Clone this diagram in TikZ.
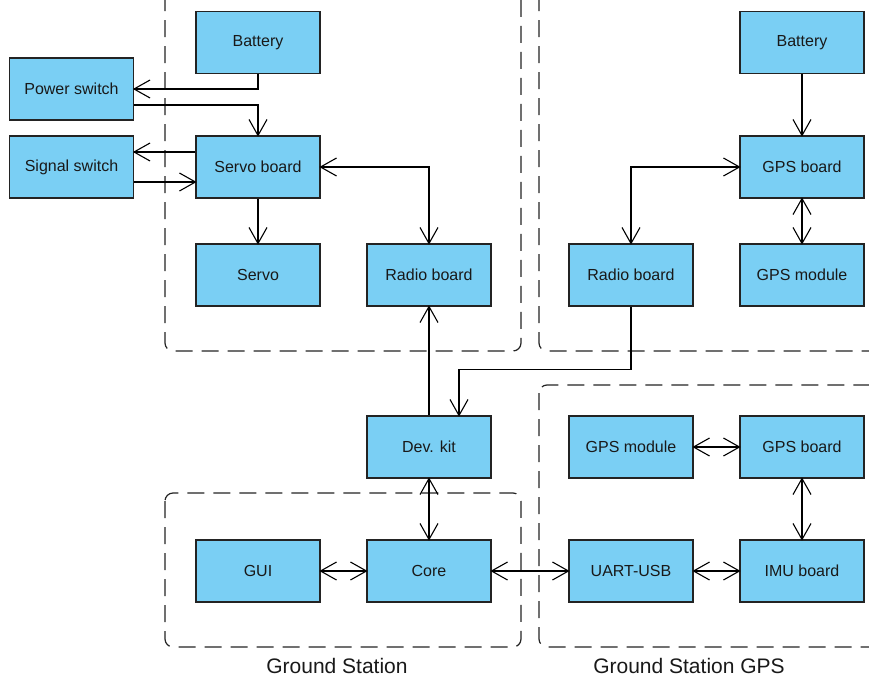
\documentclass[tikz,border=0pt]{standalone}
\usepackage{fontspec}
\setmainfont{Liberation Sans}
\usepackage{xcolor}
\usetikzlibrary{decorations.markings}
\definecolor{boxblue}{RGB}{122,207,244}
\definecolor{boxline}{RGB}{35,35,35}
\definecolor{txt}{RGB}{25,25,25}

\begin{document}
\begin{tikzpicture}[x=1pt, y=-1pt,
  box/.style={draw=boxline, fill=boxblue, line width=1.1pt, minimum width=124pt, minimum height=62pt, inner sep=0pt, text=txt, font=\fontsize{16}{19}\selectfont},
  frame/.style={draw=boxline, line width=1.2pt, dash pattern=on 17pt off 9pt, rounded corners=8pt},
  lbl/.style={text=txt, font=\fontsize{21}{25}\selectfont},
  tipend/.style={postaction={decorate, decoration={markings, mark=at position 1 with {\draw [line width=1.1pt] (-16pt,9pt) -- (0pt,0pt) -- (-16pt,-9pt);}}}},
  tipstart/.style={postaction={decorate, decoration={markings, mark=at position 0 with {\draw [line width=1.1pt] (16pt,9pt) -- (0pt,0pt) -- (16pt,-9pt);}}}},
  arr/.style={draw=black, line width=1.1pt, tipend},
  arrr/.style={draw=black, line width=1.1pt, tipstart, tipend}]
\useasboundingbox (0,0) rectangle (869,680);
\clip (0,0) rectangle (869,680);

% groups
\draw [frame] (165,-40) rectangle (521,351);
\draw [frame] (539,-40) rectangle (920,351);
\draw [frame] (165,493) rectangle (521,647);
\draw [frame] (539,385) rectangle (920,647);
\node [lbl] (gslbl) at (337,666) {Ground Station};
\node [lbl] (gpslbl) at (689,666) {Ground Station GPS};

% plane
\node [box] (bat1) at (258,42.5) {Battery};
\node [box] (pwr) at (71.5,89) {Power switch};
\node [box] (sig) at (71.5,167) {Signal switch};
\node [box] (servob) at (258,167) {Servo board};
\node [box] (servo) at (258,275) {Servo};
\node [box] (radio1) at (429,275) {Radio board};

% gps unit
\node [box] (bat2) at (802,42.5) {Battery};
\node [box] (gpsb1) at (802,167) {GPS board};
\node [box] (radio2) at (631,275) {Radio board};
\node [box] (gpsm1) at (802,275) {GPS module};

% ground
\node [box] (dev) at (429,447) {Dev. kit};
\node [box] (gui) at (258,571) {GUI};
\node [box] (core) at (429,571) {Core};
\node [box] (gpsm2) at (631,447) {GPS module};
\node [box] (gpsb2) at (802,447) {GPS board};
\node [box] (uart) at (631,571) {UART-USB};
\node [box] (imu) at (802,571) {IMU board};

% connectors
\draw [arr] (bat1.south) |- (pwr.east);
\draw [arr] ([yshift=-16pt]pwr.east) -| (servob.north);
\draw [arr] ([yshift=15pt]servob.west) -- ([yshift=15pt]sig.east);
\draw [arr] ([yshift=-15pt]sig.east) -- ([yshift=-15pt]servob.west);
\draw [arrr] (servob.east) -| (radio1.north);
\draw [arr] (servob.south) -- (servo.north);
\draw [arr] (dev.north) -- (radio1.south);
\draw [arr] (radio2.south) -- ++(0,63) -| ([xshift=30pt]dev.north);
\draw [arrr] (radio2.north) |- (gpsb1.west);
\draw [arr] (bat2.south) -- (gpsb1.north);
\draw [arrr] (gpsb1.south) -- (gpsm1.north);
\draw [arrr] (dev.south) -- (core.north);
\draw [arrr] (gui.east) -- (core.west);
\draw [arrr] (core.east) -- (uart.west);
\draw [arrr] (uart.east) -- (imu.west);
\draw [arrr] (gpsm2.east) -- (gpsb2.west);
\draw [arrr] (gpsb2.south) -- (imu.north);
\end{tikzpicture}
\end{document}
